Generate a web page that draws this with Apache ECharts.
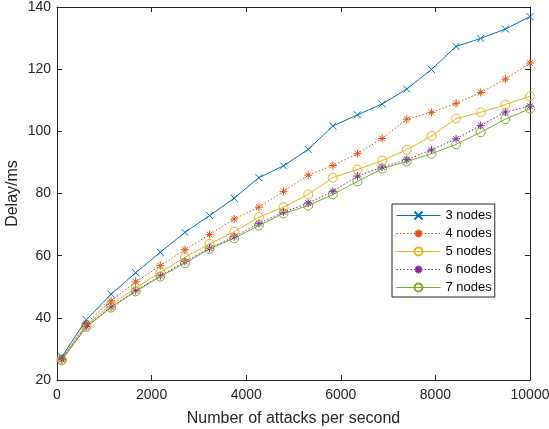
<!DOCTYPE html>
<html>
<head>
<meta charset="utf-8">
<script src="https://cdn.jsdelivr.net/npm/echarts@6/dist/echarts.min.js"></script>
<style>html,body{margin:0;padding:0;background:#fff}#c{width:549px;height:429px}</style>
</head>
<body>
<div id="c"></div>
<script>
const attacks = [100, 621, 1142, 1663, 2184, 2705, 3226, 3747, 4268, 4789, 5311, 5832, 6353, 6874, 7395, 7916, 8437, 8958, 9479, 10000];
const nodes3 = [27.4, 39.4, 47.6, 54.5, 61.1, 67.5, 72.9, 78.5, 85.1, 88.9, 94.2, 101.7, 105.3, 108.8, 113.6, 119.9, 127.3, 129.9, 132.9, 136.9];
const nodes4 = [26.8, 38.2, 45.5, 51.6, 56.8, 61.9, 66.8, 71.8, 75.6, 80.7, 85.9, 89.0, 92.8, 97.7, 103.9, 106.1, 109.0, 112.5, 116.8, 122.0];
const nodes5 = [26.7, 37.7, 44.2, 49.6, 54.6, 59.5, 63.8, 67.7, 72.4, 75.6, 79.7, 85.1, 87.7, 90.6, 94.1, 98.5, 104.1, 106.1, 108.6, 111.3];
const nodes6 = [26.5, 37.2, 43.5, 48.7, 53.5, 58.1, 62.4, 66.1, 70.4, 74.0, 76.9, 80.7, 85.6, 88.5, 90.9, 94.0, 97.6, 101.9, 106.2, 108.1];
const nodes7 = [26.3, 37.1, 43.3, 48.5, 53.3, 57.6, 62.2, 65.6, 69.7, 73.6, 76.1, 79.7, 83.9, 88.0, 90.3, 92.8, 95.8, 99.7, 103.9, 107.3];
const seriesNames = ['3 nodes', '4 nodes', '5 nodes', '6 nodes', '7 nodes'];
const xTicks = [0, 2000, 4000, 6000, 8000, 10000];
const yTicks = [20, 40, 60, 80, 100, 120, 140];

const colors = ['#0072BD', '#D95319', '#EDB120', '#7E2F8E', '#77AC30'];
const CROSS = 'path://M0 0L10 10M10 0L0 10';
const STAR = 'path://M5 0L5 10M0 5L10 5M1.5 1.5L8.5 8.5M8.5 1.5L1.5 8.5';
const styles = [
  {symbol: CROSS, size: 7, dash: 'solid'},
  {symbol: STAR, size: 8, dash: [1.5, 2]},
  {symbol: 'circle', size: 9, dash: 'solid'},
  {symbol: STAR, size: 8, dash: [1.5, 2]},
  {symbol: 'circle', size: 9, dash: 'solid'}
];
const allData = [nodes3, nodes4, nodes5, nodes6, nodes7];
const axisColor = '#262626';
const font = 'Liberation Sans, Arial, sans-serif';

const series = allData.map((d, i) => ({
  name: seriesNames[i],
  type: 'line',
  data: attacks.map((x, j) => [x, d[j]]),
  symbol: styles[i].symbol,
  symbolSize: styles[i].size,
  showAllSymbol: true,
  animation: false,
  lineStyle: {color: colors[i], width: 1, type: styles[i].dash},
  itemStyle: {color: 'rgba(0,0,0,0)', borderColor: colors[i], borderWidth: 1},
  emphasis: {disabled: true},
  z: 10 - i
}));

const baseX = {
  type: 'value', min: 0, max: 10000, interval: 2000,
  axisLine: {show: true, onZero: false, lineStyle: {color: axisColor, width: 1}},
  axisTick: {show: true, inside: true, length: 5, lineStyle: {color: axisColor}},
  splitLine: {show: false}
};
const baseY = {
  type: 'value', min: 20, max: 140, interval: 20,
  axisLine: {show: true, onZero: false, lineStyle: {color: axisColor, width: 1}},
  axisTick: {show: true, inside: true, length: 5, lineStyle: {color: axisColor}},
  splitLine: {show: false}
};

const chart = echarts.init(document.getElementById('c'), null, {renderer: 'canvas'});
chart.setOption({
  backgroundColor: '#fff',
  animation: false,
  textStyle: {fontFamily: font},
  grid: {left: 57, right: 19, top: 7, bottom: 49, containLabel: false, outerBoundsMode: 'none'},
  xAxis: [
    Object.assign({}, baseX, {
      position: 'bottom',
      name: 'Number of attacks per second', nameLocation: 'middle', nameGap: 31,
      nameMoveOverlap: false,
      nameTextStyle: {fontSize: 16, color: axisColor, fontFamily: font},
      axisLabel: {show: true, fontSize: 14, color: axisColor, fontFamily: font, margin: 8,
        formatter: v => xTicks.includes(v) ? String(v) : ''}
    }),
    Object.assign({}, baseX, {position: 'top', axisLabel: {show: false}})
  ],
  yAxis: [
    Object.assign({}, baseY, {
      position: 'left',
      name: 'Delay/ms', nameLocation: 'middle', nameGap: 36,
      nameMoveOverlap: false,
      nameTextStyle: {fontSize: 16, color: axisColor, fontFamily: font},
      axisLabel: {show: true, fontSize: 14, color: axisColor, fontFamily: font, margin: 6,
        formatter: v => yTicks.includes(v) ? String(v) : ''}
    }),
    Object.assign({}, baseY, {position: 'right', axisLabel: {show: false}})
  ],
  legend: {
    orient: 'vertical', left: 392, top: 204,
    padding: [5, 3, 3, 4], itemGap: 5, itemWidth: 44, itemHeight: 10,
    backgroundColor: '#fff', borderColor: axisColor, borderWidth: 1, borderRadius: 0,
    lineStyle: {width: 1},
    textStyle: {fontSize: 13, color: '#000', fontFamily: font},
    data: seriesNames
  },
  series: series
});
</script>
</body>
</html>
